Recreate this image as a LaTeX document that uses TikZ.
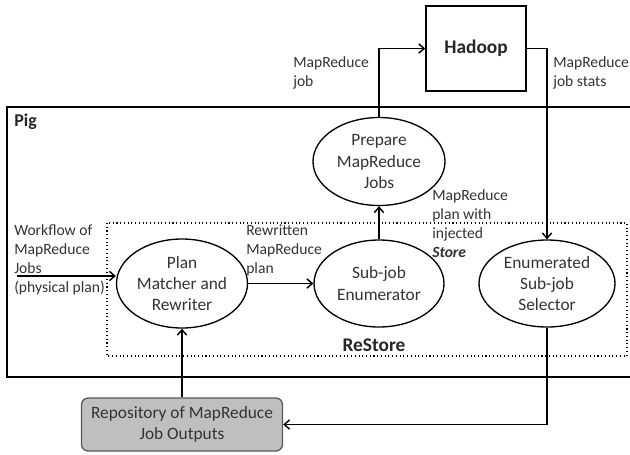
\documentclass[tikz,border=0pt]{standalone}
\usepackage{fontspec}
\setmainfont{Carlito}
\usetikzlibrary{shapes.geometric,arrows.meta}
\begin{document}
\begin{tikzpicture}[x=0.75pt,y=-0.75pt,
  proc/.style={draw,ellipse,line width=1pt,inner sep=0pt,align=center,text=black!80,font=\fontsize{13}{16}\selectfont},
  lbl/.style={anchor=west,align=left,inner sep=0pt,text=black!80,font=\fontsize{11.7}{14.2}\selectfont},
  ttl/.style={inner sep=0pt,text=black!85,font=\fontsize{14.5}{17}\selectfont\bfseries},
  conn/.style={line width=1.1pt,-{Straight Barb[length=4pt,width=7pt]}},
]
\useasboundingbox (0,0) rectangle (630,454);
% containers
\draw[line width=1.2pt] (630,107) -- (7,107) -- (7,377) -- (630,377);
\draw[dotted,line width=0.8pt] (107,223) rectangle (627,356);
\node[ttl,anchor=west,font=\fontsize{13.5}{16}\selectfont\bfseries] (pig) at (14,122) {Pig};
\node[ttl] (restore) at (374,345) {ReStore};
% main nodes
\node[draw,line width=1.2pt,minimum width=75pt,minimum height=63.75pt,ttl] (had) at (476,48.5) {Hadoop};
\node[proc,minimum width=99pt,minimum height=66pt] (prep) at (379,161.5) {Prepare\\MapReduce\\Jobs};
\node[proc,minimum width=98.25pt,minimum height=66.75pt] (plan) at (182,283.5) {Plan\\Matcher and\\Rewriter};
\node[proc,minimum width=97.5pt,minimum height=65.25pt] (sub) at (379,283.5) {Sub-job\\Enumerator};
\node[proc,minimum width=102pt,minimum height=65.25pt] (enum) at (547,283.5) {Enumerated\\Sub-job\\Selector};
\node[draw=black!65,fill=black!25,rounded corners=5pt,line width=1pt,minimum width=150.75pt,minimum height=39.75pt,inner sep=0pt,align=center,text=black!80,font=\fontsize{13}{15.8}\selectfont] (repo) at (182,424.5) {Repository of MapReduce\\Job Outputs};
% labels
\node[lbl] (l1) at (293,72.5) {MapReduce\\job};
\node[lbl] (l2) at (553,72.5) {MapReduce\\job stats};
\node[lbl] (l3) at (432,223.5) {MapReduce\\plan with\\injected\\\textbf{\textit{Store}}};
\node[lbl] (l4) at (14,260) {Workflow of\\MapReduce\\Jobs\\(physical plan)};
\node[lbl] (l5) at (246,250) {Rewritten\\MapReduce\\plan};
% connectors
\coordinate (wf) at (17,276);
\draw[conn] (wf) -- (wf -| plan.west);
\draw[conn] (plan.east) -- (sub.west);
\draw[conn] (sub.north) -- (prep.south);
\draw[conn] (prep.north) |- (had.west);
\draw[conn] (had.east) -| (enum.north);
\draw[conn] (enum.south) |- (repo.east);
\draw[conn] (repo.north) -- (plan.south);
\end{tikzpicture}
\end{document}
